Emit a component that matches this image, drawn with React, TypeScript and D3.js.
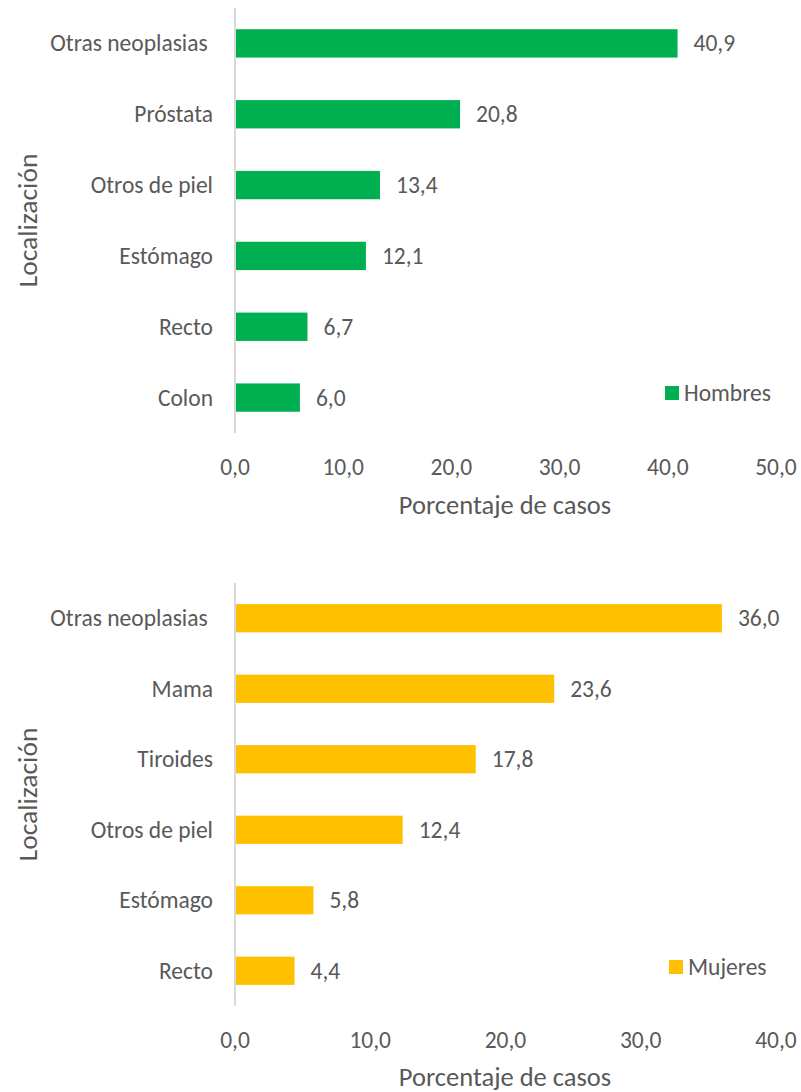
import React from "react";
import * as d3 from "d3";

const menCategories = ["Otras neoplasias ", "Próstata", "Otros de piel", "Estómago", "Recto", "Colon"];
const menValues = [40.9, 20.8, 13.4, 12.1, 6.7, 6.0];
const menTicks = [0, 10, 20, 30, 40, 50];

const womenCategories = ["Otras neoplasias ", "Mama", "Tiroides", "Otros de piel", "Estómago", "Recto"];
const womenValues = [36.0, 23.6, 17.8, 12.4, 5.8, 4.4];
const womenTicks = [0, 10, 20, 30, 40];

const FONT = "Carlito, Calibri, Lato, sans-serif";
const TEXT = "#595959";
const fmt = (v: number) => v.toFixed(1).replace(".", ",");

type ChartProps = {
  categories: string[];
  values: number[];
  ticks: number[];
  color: string;
  legend: string;
  axisTop: number;
  axisBottom: number;
  tickY: number;
  titleY: number;
  legendX: number;
  legendY: number;
};

function Chart(p: ChartProps) {
  const left = 235;
  const right = 776;
  const x = d3.scaleLinear().domain([0, p.ticks[p.ticks.length - 1]]).range([left, right]);
  const y = d3
    .scaleBand<string>()
    .domain(p.categories)
    .range([p.axisTop, p.axisBottom])
    .paddingInner(0.6)
    .paddingOuter(0.3);
  const fs = 23.5;
  return (
    <g fontFamily={FONT} fill={TEXT}>
      {p.categories.map((c, i) => (
        <g key={c}>
          <rect
            x={x(0)}
            y={y(c)!}
            width={x(p.values[i]) - x(0)}
            height={y.bandwidth()}
            fill={p.color}
          />
          <text
            x={x(p.values[i]) + 16}
            y={y(c)! + y.bandwidth() / 2}
            dominantBaseline="central"
            fontSize={fs}
          >
            {fmt(p.values[i])}
          </text>
          <text
            x={213}
            y={y(c)! + y.bandwidth() / 2}
            dominantBaseline="central"
            textAnchor="end"
            fontSize={fs}
            style={{ whiteSpace: "pre" }}
          >
            {c}
          </text>
        </g>
      ))}
      <line x1={x(0)} x2={x(0)} y1={p.axisTop} y2={p.axisBottom} stroke="#D9D9D9" strokeWidth={2} />
      {p.ticks.map((t) => (
        <text key={t} x={x(t)} y={p.tickY} textAnchor="middle" dominantBaseline="central" fontSize={fs}>
          {fmt(t)}
        </text>
      ))}
      <text x={505} y={p.titleY} textAnchor="middle" dominantBaseline="central" fontSize={26.5}>
        Porcentaje de casos
      </text>
      <text
        transform={`translate(27,${(p.axisTop + p.axisBottom) / 2}) rotate(-90)`}
        textAnchor="middle"
        dominantBaseline="central"
        fontSize={27.5}
      >
        Localización
      </text>
      <rect x={p.legendX} y={p.legendY - 7} width={14} height={14} fill={p.color} />
      <text x={p.legendX + 19} y={p.legendY} dominantBaseline="central" fontSize={fs}>
        {p.legend}
      </text>
    </g>
  );
}

export default function App() {
  return (
    <svg
      width={801}
      height={1092}
      style={{ position: "absolute", left: 0, top: 0, background: "#fff" }}
    >
      <Chart
        categories={menCategories}
        values={menValues}
        ticks={menTicks}
        color="#00B050"
        legend="Hombres"
        axisTop={8}
        axisBottom={433}
        tickY={467}
        titleY={505}
        legendX={665}
        legendY={393}
      />
      <Chart
        categories={womenCategories}
        values={womenValues}
        ticks={womenTicks}
        color="#FFC000"
        legend="Mujeres"
        axisTop={583}
        axisBottom={1006}
        tickY={1040}
        titleY={1077}
        legendX={669}
        legendY={967}
      />
    </svg>
  );
}
